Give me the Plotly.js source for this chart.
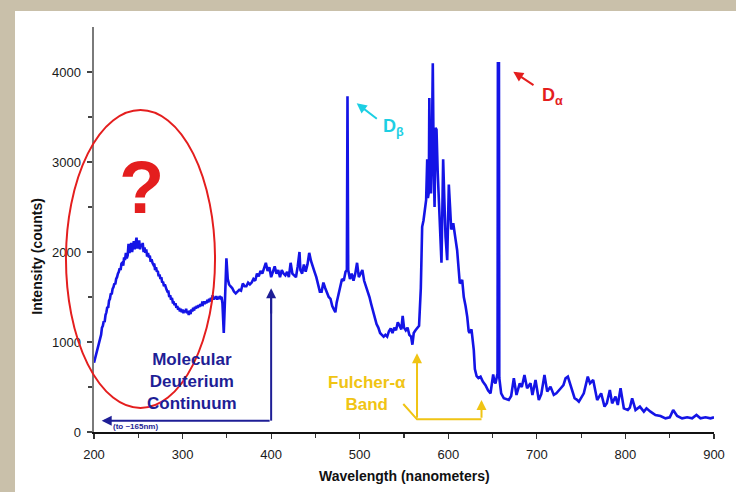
<!DOCTYPE html>
<html>
<head>
<meta charset="utf-8">
<script src="https://cdn.plot.ly/plotly-3.0.1.min.js"></script>
<style>html,body{margin:0;padding:0;background:#c9c0aa;}#chart{width:736px;height:492px;}</style>
</head>
<body>
<div id="chart"></div>
<script>
// Wavelength (nm)
const wavelength = [
200,202,204,206,207,208,209,210,211,212,213,214,215,216,217,218,219,220,221,222,
223,224,225,226,227,228,229,230,231,232,233,234,235,236,237,238,239,240,241,242,
243,244,245,246,247,248,249,250,251,252,253,254,255,256,257,258,259,260,261,262,
263,264,265,266,267,268,269,270,271,272,273,274,275,276,277,278,279,280,281,282,
283,284,285,286,287,288,289,290,291,292,293,294,295,296,297,298,299,300,301,302,
303,304,305,306,307,308,309,310,311,312,313,314,315,316,317,318,319,320,321,322,
323,324,325,326,327,328,329,330,331,332,333,334,335,336,337,338,339,340,341,342,
343,344,345,346.5,348,349.5,351,352.5,354,356,358,360,362,364,366,368,370,372,374,376,
378,380,382,384,386,388,390,392,394,396,398,400,402,404,406,408,410,412,414,416,
418,420,422,424,426,428,430,432,433,435,437,439,441,443,445,447,449,451,453,455,
457,459,461,463,465,467,469,471,472.5,474,476,478,480,482,484,485.5,486.2,487,489,491,
493,495,497,499,501,503,505,507,509,511,513,515,517,519,521,523,525,527,529,531,
533,535,537,539,541,543,545,547,548.5,550,552,554,556,558,559.5,561,563,565,567,569,
570.5,572,574,575,576.2,577,578,578.6,579.4,580.5,581.5,582.5,583.5,584.5,585.6,586.7,588,589.3,591,592.3,
593.2,594.2,595.5,596.9,598.8,600.6,602,603.3,605.6,607,608.2,610,611.5,613,615.7,617.5,619.5,621.4,623,624,
626.2,628.8,630,632,634,636.4,639,642,645,647.7,650.7,652,653.3,655,655.6,656.0,657.2,657.6,659.7,662.7,
665,668.3,671,674,677,680.7,683,686,689,692.8,695,698.5,702.2,705,708.6,711.7,715.4,719.1,722,724.8,
727,730,732.4,735,738,740.5,742.6,745,747.4,750,753,757.5,760,763.6,766,768.1,772.6,776.4,779,782.4,
785,788.8,791.4,794.5,798.2,802.7,805,807.6,811.4,816.3,820.8,823.8,828.3,833.9,839.6,845.2,850.1,853.9,858.4,864,
869.7,875.3,880.2,884.7,890.4,896,900
];
// Intensity (counts)
const intensity = [
770,850,940,1010,1060,1080,1160,1180,1230,1220,1300,1330,1390,1380,1460,1480,1540,1530,1590,1610,
1650,1640,1700,1720,1760,1780,1820,1800,1870,1880,1850,1940,1910,1990,1930,1960,2090,1990,2040,2100,
2000,2060,2120,2030,2080,2160,2040,2110,2130,2030,2090,2060,2100,2000,2050,1990,2030,1950,1990,1940,
1960,1890,1920,1880,1860,1870,1800,1830,1780,1790,1730,1750,1700,1720,1660,1670,1620,1640,1590,1580,
1560,1560,1500,1520,1470,1490,1440,1440,1410,1430,1380,1400,1360,1380,1340,1370,1330,1360,1320,1350,
1330,1370,1320,1340,1300,1350,1310,1360,1340,1380,1350,1390,1370,1400,1380,1410,1390,1420,1400,1430,
1420,1450,1420,1450,1430,1470,1440,1480,1450,1490,1470,1520,1470,1500,1480,1510,1470,1500,1480,1510,
1490,1500,1430,1100,1500,1930,1700,1640,1620,1600,1560,1540,1560,1580,1570,1650,1620,1620,1660,1640,
1660,1700,1680,1760,1730,1790,1760,1820,1880,1790,1830,1720,1780,1840,1760,1800,1720,1800,1760,1740,
1780,1720,1880,1760,1740,1720,1840,2000,1800,1760,1860,1780,1860,1990,1900,1850,1780,1720,1640,1560,
1560,1660,1600,1540,1500,1480,1400,1360,1330,1440,1540,1640,1700,1680,1780,1800,3730,1800,1700,1760,
1680,1760,1880,1720,1760,1800,1680,1620,1580,1500,1420,1340,1260,1200,1160,1100,1080,1060,1080,1060,
1120,1150,1100,1160,1130,1220,1180,1140,1290,1160,1130,1160,1080,1060,970,1100,1130,1150,1180,1600,
2280,2350,2550,2580,3030,2600,2660,3710,3000,2650,3200,4096,3000,2500,3380,3360,2900,2580,2200,1880,
2400,3030,2600,2170,1910,2750,2500,2250,2320,2200,2140,2020,1850,1650,1690,1500,1400,1280,1120,1100,
1140,910,700,620,600,615,560,520,460,430,640,560,540,600,650,4096,4096,600,430,375,
370,356,400,597,412,541,500,634,486,541,412,578,356,420,634,449,504,412,430,467,
486,520,597,615,523,430,375,360,337,380,430,615,541,578,470,356,430,282,320,467,
319,393,300,486,263,245,270,375,245,282,226,263,226,189,178,152,163,245,178,152,
163,152,189,152,163,152,163
];
// Tick values
const xTicks = [200,300,400,500,600,700,800,900];
const yTicks = [0,1000,2000,3000,4000];

const FONT = 'Liberation Sans, Arial, Helvetica, sans-serif';
const navy = '#1e1e96';
const gold = '#f0c414';
const red = '#e41e1e';
const cyan = '#1ccfe3';

const trace = {
  x: wavelength, y: intensity, type: 'scatter', mode: 'lines',
  line: {color: '#1414e6', width: 2.6}, hoverinfo: 'skip'
};

function arrow(x, y, ax, ay, color, head) {
  return {x: x, y: y, ax: ax, ay: ay, xref: 'x', yref: 'y', axref: 'x', ayref: 'y',
    text: '', showarrow: true, arrowhead: head, arrowsize: 1, arrowwidth: 2, arrowcolor: color};
}

const layout = {
  width: 736, height: 492,
  margin: {l: 94, r: 22, t: 27, b: 60, pad: 0},
  paper_bgcolor: '#c9c0aa', plot_bgcolor: 'rgba(0,0,0,0)',
  showlegend: false,
  font: {family: FONT, size: 13, color: '#1a1a1a'},
  xaxis: {
    range: [200, 900], tickvals: xTicks, ticktext: xTicks.map(String),
    showline: true, linecolor: '#111', linewidth: 1.5, mirror: false,
    ticks: 'outside', ticklen: 5, tickwidth: 1.2, tickcolor: '#333',
    minor: {tickvals: [250,350,450,550,650,750,850], ticks: 'outside', ticklen: 4, tickcolor: '#333', tickwidth: 1.2},
    showgrid: false, zeroline: false, ticklabelstandoff: 5,
    tickfont: {family: FONT, size: 13, color: '#1a1a1a'}
  },
  yaxis: {
    range: [0, 4500], tickvals: yTicks, ticktext: yTicks.map(String),
    showline: true, linecolor: '#7a7a7a', linewidth: 2.5,
    ticks: 'outside', ticklen: 5, tickwidth: 1.2, tickcolor: '#444',
    minor: {tickvals: [500,1500,2500,3500], ticks: 'outside', ticklen: 4, tickcolor: '#444', tickwidth: 1.2},
    showgrid: false, zeroline: false, ticklabelstandoff: 3,
    tickfont: {family: FONT, size: 13, color: '#1a1a1a'}
  },
  shapes: [
    {type: 'rect', xref: 'paper', yref: 'paper', x0: -0.1274, x1: 1.05, y0: -0.2, y1: 1.0395,
      fillcolor: '#ffffff', line: {width: 0}, layer: 'below'},
    {type: 'circle', xref: 'paper', yref: 'paper', x0: -0.0452, x1: 0.1952, y0: 0.0593, y1: 0.795,
      line: {color: red, width: 2}, layer: 'above'},
    {type: 'line', xref: 'x', yref: 'y', x0: 400, x1: 400, y0: 126, y1: 1500, line: {color: navy, width: 2}},
    {type: 'path', xref: 'x', yref: 'y', path: 'M549.2,311 L564.7,141 L637.5,141', line: {color: gold, width: 2}}
  ],
  annotations: [
    {x: -0.0919, y: 0.4328, xref: 'paper', yref: 'paper', xanchor: 'center', yanchor: 'middle',
      text: 'Intensity (counts)', textangle: -90,
      showarrow: false, font: {family: FONT, size: 14, weight: 700, color: '#111'}},
    {x: 0.5, y: -0.1086, xref: 'paper', yref: 'paper', xanchor: 'center', yanchor: 'middle',
      text: 'Wavelength (nanometers)',
      showarrow: false, font: {family: FONT, size: 14, weight: 700, color: '#111'}},
    {x: 253.9, y: 2722, xref: 'x', yref: 'y', text: '?', showarrow: false,
      font: {family: FONT, size: 74, weight: 700, color: red}},
    {x: 310.3, y: 556, xref: 'x', yref: 'y', text: 'Molecular<br>Deuterium<br>Continuum', showarrow: false,
      font: {family: FONT, size: 17, weight: 700, color: navy}},
    {x: 246.9, y: 61, xref: 'x', yref: 'y', text: '(to ~165nm)', showarrow: false,
      font: {family: FONT, size: 8, weight: 700, color: navy}},
    {x: 508.2, y: 433, xref: 'x', yref: 'y', text: 'Fulcher-α<br>Band', showarrow: false,
      font: {family: FONT, size: 17, weight: 700, color: gold}},
    {x: 537.6, y: 3378, xref: 'x', yref: 'y', text: 'D<sub>β</sub>', showarrow: false,
      font: {family: FONT, size: 18, weight: 700, color: cyan}},
    {x: 717.1, y: 3733, xref: 'x', yref: 'y', text: 'D<sub>α</sub>', showarrow: false,
      font: {family: FONT, size: 18, weight: 700, color: red}},
    arrow(400, 1597, 400, 1300, navy, 2),
    arrow(208.7, 126, 400, 126, navy, 2),
    arrow(564.7, 874, 564.7, 141, gold, 2),
    arrow(637.5, 356, 637.5, 141, gold, 2),
    arrow(496.6, 3652, 521, 3467, cyan, 2),
    arrow(673.4, 4003, 697.9, 3844, red, 2)
  ]
};

Plotly.newPlot('chart', [trace], layout, {displayModeBar: false, staticPlot: true});
</script>
</body>
</html>
